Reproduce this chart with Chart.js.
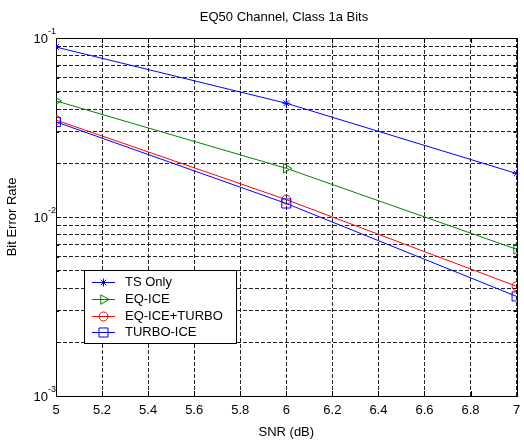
<!DOCTYPE html>
<html>
<head>
<meta charset="utf-8">
<script src="https://cdn.jsdelivr.net/npm/chart.js@4.4.0/dist/chart.umd.min.js"></script>
<style>
  html, body { margin: 0; padding: 0; background: #fff; }
  #wrap { width: 524px; height: 441px; }
</style>
</head>
<body>
<div id="wrap"><canvas id="berChart" width="524" height="441"></canvas></div>
<script>
// values
const snr = [5, 6, 7];
const tsOnly = [0.089, 0.0432, 0.0175];
const eqIce = [0.0445, 0.0187, 0.0066];
const eqIceTurbo = [0.0348, 0.0125, 0.0041];
const turboIce = [0.0340, 0.0119, 0.0036];
const seriesNames = ['TS Only', 'EQ-ICE', 'EQ-ICE+TURBO', 'TURBO-ICE'];

const xTicks = [5, 5.2, 5.4, 5.6, 5.8, 6, 6.2, 6.4, 6.6, 6.8, 7];
const yTicks = [0.001, 0.002, 0.003, 0.004, 0.005, 0.006, 0.007, 0.008, 0.009,
                0.01, 0.02, 0.03, 0.04, 0.05, 0.06, 0.07, 0.08, 0.09, 0.1];
const yDecades = [0.001, 0.01, 0.1];
const yDecadeExps = ['-3', '-2', '-1'];

const FONT = '"Liberation Sans", Arial, sans-serif';
Chart.defaults.font.family = FONT;
Chart.defaults.font.size = 13;
Chart.defaults.color = '#000';

function series(label, values, color, style, radius, rotation, order) {
  return {
    label: label,
    data: snr.map((x, i) => ({ x: x, y: values[i] })),
    borderColor: color,
    backgroundColor: 'rgba(0,0,0,0)',
    borderWidth: 1,
    pointStyle: style,
    pointRadius: radius,
    pointBorderWidth: 1,
    pointRotation: rotation,
    pointBackgroundColor: 'rgba(0,0,0,0)',
    pointBorderColor: color,
    fill: false,
    tension: 0,
    order: order
  };
}

const datasets = [
  series(seriesNames[0], tsOnly, '#0000ff', 'star', 4, 0, 4),
  series(seriesNames[1], eqIce, '#008000', 'triangle', 5.5, 90, 3),
  series(seriesNames[2], eqIceTurbo, '#ff0000', 'circle', 4.5, 0, 2),
  series(seriesNames[3], turboIce, '#0000ff', 'rect', 6.4, 0, 1)
];

// frame, inner tick marks, title, y labels, legend (MATLAB look)
const matlabFrame = {
  id: 'matlabFrame',
  beforeDatasetsDraw(chart) {
    const ctx = chart.ctx;
    const a = chart.chartArea;
    const xs = chart.scales.x, ys = chart.scales.y;
    ctx.save();
    ctx.strokeStyle = '#000';
    ctx.lineWidth = 1;
    ctx.beginPath();
    xTicks.forEach(v => {
      const px = Math.round(xs.getPixelForValue(v)) + 0.5;
      ctx.moveTo(px, a.bottom); ctx.lineTo(px, a.bottom - 5);
      ctx.moveTo(px, a.top); ctx.lineTo(px, a.top + 5);
    });
    yTicks.forEach(v => {
      const py = Math.round(ys.getPixelForValue(v)) + 0.5;
      const len = yDecades.includes(v) ? 5 : 3;
      ctx.moveTo(a.left, py); ctx.lineTo(a.left + len, py);
      ctx.moveTo(a.right, py); ctx.lineTo(a.right - len, py);
    });
    ctx.stroke();
    ctx.strokeRect(Math.round(a.left) + 0.5, Math.round(a.top) + 0.5,
                   Math.round(a.right - a.left), Math.round(a.bottom - a.top));
    ctx.restore();
  },
  afterDraw(chart) {
    const ctx = chart.ctx;
    const ys = chart.scales.y;
    ctx.save();
    ctx.fillStyle = '#000';

    // title
    ctx.font = '13px ' + FONT;
    ctx.textAlign = 'center';
    ctx.textBaseline = 'middle';
    ctx.fillText('EQ50 Channel, Class 1a Bits', 284, 17);

    // y decade labels 10^n
    yDecades.forEach((v, i) => {
      const py = ys.getPixelForValue(v);
      ctx.font = '13px ' + FONT;
      ctx.textAlign = 'right';
      ctx.textBaseline = 'middle';
      ctx.fillText('10', 48, py + 1);
      ctx.font = '9px ' + FONT;
      ctx.textAlign = 'left';
      ctx.fillText(yDecadeExps[i], 48, py - 6);
    });

    // legend box
    const lg = { x: 84.5, y: 270.5, w: 152, h: 73 };
    ctx.fillStyle = '#fff';
    ctx.fillRect(lg.x, lg.y, lg.w, lg.h);
    ctx.strokeStyle = '#000';
    ctx.lineWidth = 1;
    ctx.strokeRect(lg.x, lg.y, lg.w, lg.h);
    chart.data.datasets.forEach((ds, i) => {
      const ry = Math.round(282.3 + i * 16.7) + 0.5;
      ctx.strokeStyle = ds.borderColor;
      ctx.lineWidth = 1;
      ctx.beginPath();
      ctx.moveTo(92, ry); ctx.lineTo(115, ry);
      ctx.stroke();
      ctx.fillStyle = 'rgba(0,0,0,0)';
      Chart.helpers.drawPoint(ctx, {
        pointStyle: ds.pointStyle,
        rotation: ds.pointRotation,
        radius: ds.pointRadius,
        borderWidth: 1
      }, 103.5, ry);
      ctx.fillStyle = '#000';
      ctx.font = '13px ' + FONT;
      ctx.textAlign = 'left';
      ctx.textBaseline = 'middle';
      ctx.fillText(ds.label, 125, ry);
    });
    ctx.restore();
  }
};

new Chart(document.getElementById('berChart'), {
  type: 'line',
  data: { datasets: datasets },
  options: {
    responsive: false,
    animation: false,
    events: [],
    layout: { padding: { top: 38, right: 3, left: 0, bottom: 0 } },
    plugins: {
      legend: { display: false },
      title: { display: false },
      tooltip: { enabled: false }
    },
    scales: {
      x: {
        type: 'linear',
        min: 5,
        max: 7,
        afterBuildTicks: s => { s.ticks = xTicks.map(v => ({ value: v })); },
        afterFit: s => { s.height = 45; s.paddingLeft = 0; s.paddingRight = 0; },
        ticks: {
          autoSkip: false,
          maxRotation: 0,
          padding: 7,
          color: '#000',
          font: { size: 13 },
          callback: v => String(Number(v.toFixed(1)))
        },
        grid: { color: '#222', lineWidth: 1, drawTicks: false },
        border: { display: true, color: '#000', dash: [4, 2] },
        title: { display: true, text: 'SNR (dB)', color: '#000', font: { size: 13 }, padding: { top: 0, bottom: 1 } }
      },
      y: {
        type: 'logarithmic',
        min: 0.001,
        max: 0.1,
        afterBuildTicks: s => { s.ticks = yTicks.map(v => ({ value: v })); },
        afterFit: s => { s.width = 56; s.paddingTop = 0; s.paddingBottom = 0; },
        ticks: { display: false, autoSkip: false },
        grid: { color: '#222', lineWidth: 1, drawTicks: false },
        border: { display: true, color: '#000', dash: [4, 2] },
        title: { display: true, text: 'Bit Error Rate', color: '#000', font: { size: 13 }, padding: { top: 5, bottom: 0 } }
      }
    }
  },
  plugins: [matlabFrame]
});
</script>
</body>
</html>
